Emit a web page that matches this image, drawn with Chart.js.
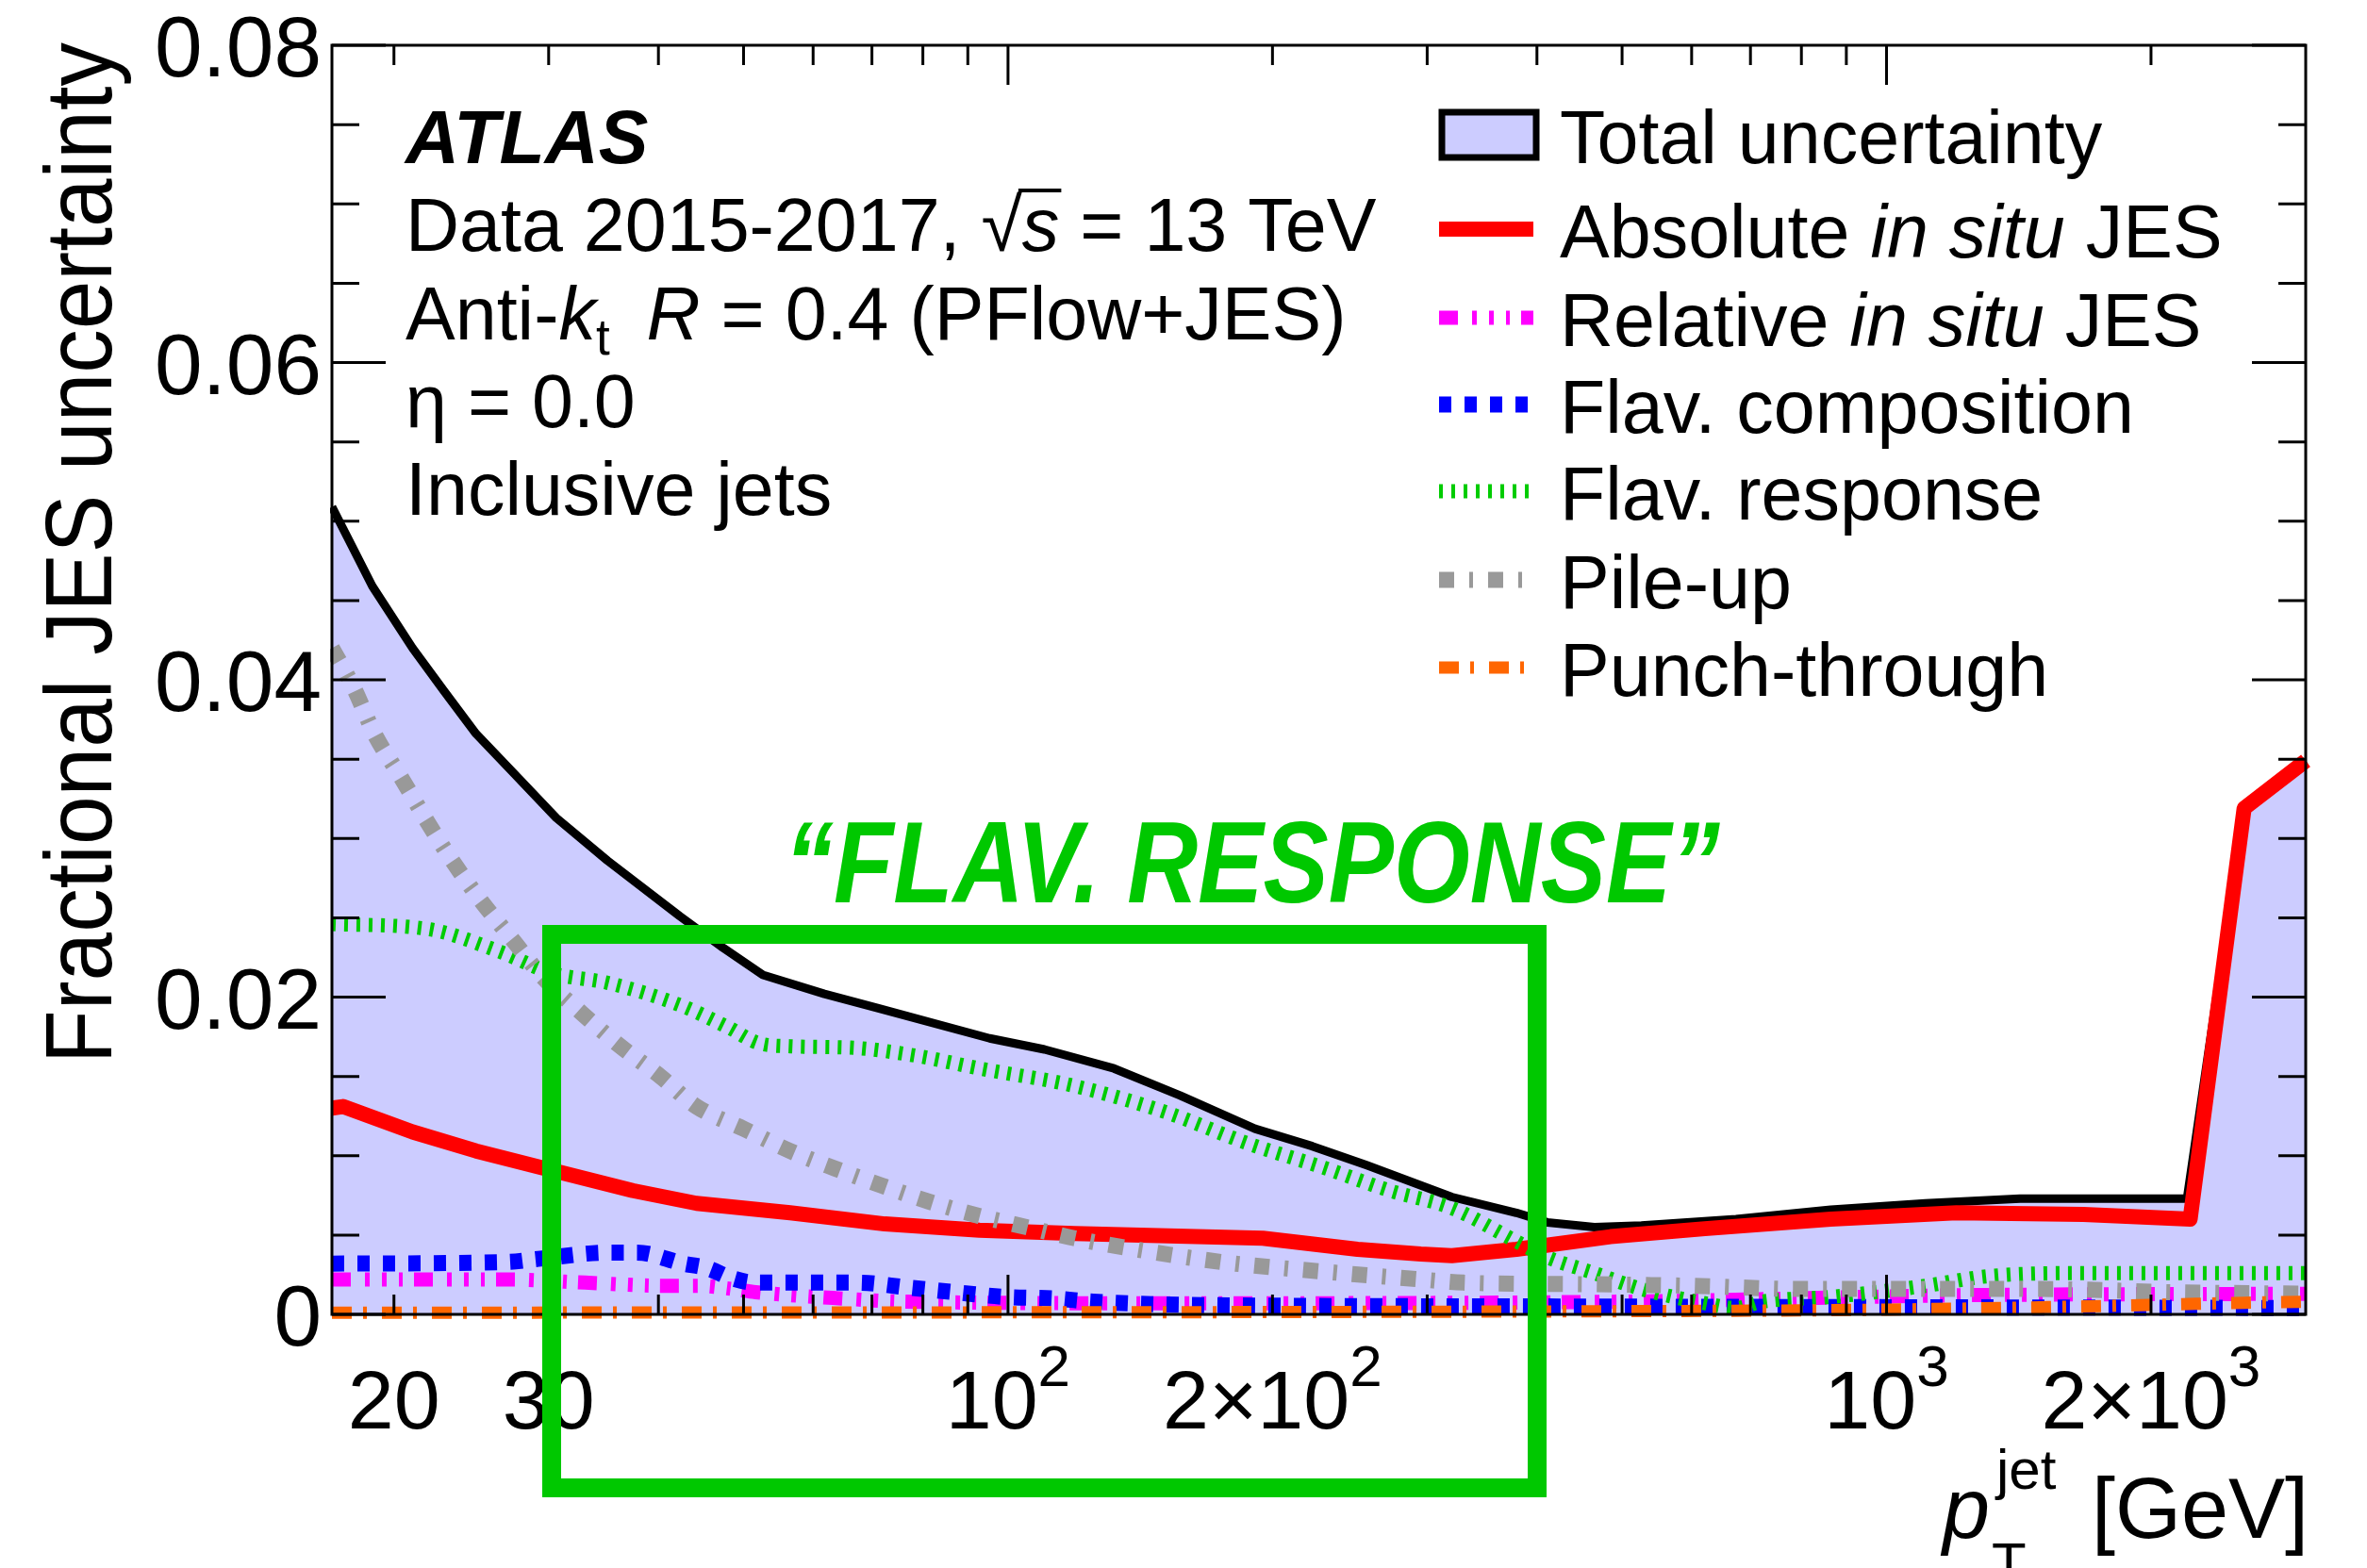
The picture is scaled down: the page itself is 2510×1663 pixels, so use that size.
<!DOCTYPE html>
<html>
<head>
<meta charset="utf-8">
<script src="https://cdn.jsdelivr.net/npm/chart.js@4.4.0/dist/chart.umd.min.js"></script>
<style>
html, body { margin: 0; padding: 0; background: #fff; }
canvas { display: block; }
</style>
</head>
<body>
<canvas id="c" width="2510" height="1663"></canvas>
<script>
// jet pT [GeV] and fractional JES uncertainty
const ptTotal = [17, 18.9, 21, 22.8, 24.8, 27.4, 30.6, 35, 42.3, 47.4, 52.6, 61.8, 71.2, 95.3, 110, 132, 157, 191, 222, 256, 320, 379, 411, 465, 526, 674, 864, 1107, 1419, 1973, 2198, 2553, 3000];
const uncTotal = [0.0509, 0.0459, 0.0420, 0.0393, 0.0366, 0.0341, 0.0313, 0.0286, 0.0251, 0.0231, 0.0214, 0.0202, 0.0193, 0.0174, 0.0167, 0.0155, 0.0138, 0.0117, 0.0106, 0.0094, 0.0074, 0.0064, 0.0058, 0.0055, 0.0056, 0.0060, 0.0066, 0.0070, 0.0073, 0.0073, 0.0073, 0.0319, 0.0349];

const ptAbs = [17, 17.5, 21, 24.8, 29.7, 37.4, 44.2, 56.5, 72.4, 92.8, 119, 195, 250, 295, 320, 379, 485, 621, 864, 1201, 1675, 2216, 2553, 3000];
const uncAbs = [0.0130, 0.0131, 0.0115, 0.0103, 0.0092, 0.0078, 0.0070, 0.0064, 0.0057, 0.0053, 0.0051, 0.0048, 0.0041, 0.0038, 0.0037, 0.0041, 0.0049, 0.0054, 0.0060, 0.0064, 0.0063, 0.0060, 0.0319, 0.0349];

const ptRel = [17, 26.9, 33, 41, 44.5, 48.5, 51.6, 64.7, 76.7, 150, 500, 1200, 3000];
const uncRel = [0.0022, 0.0022, 0.0020, 0.0018, 0.0018, 0.0016, 0.0014, 0.0010, 0.0008, 0.0007, 0.0008, 0.0012, 0.0013];

const ptFlavComp = [17, 26.9, 29.2, 35.3, 37.8, 42.7, 45.5, 48.4, 51.6, 67.3, 76.7, 86.8, 99.3, 113, 125, 160, 400, 3000];
const uncFlavComp = [0.0032, 0.0033, 0.0035, 0.0039, 0.0039, 0.0032, 0.0029, 0.0023, 0.0020, 0.0020, 0.0017, 0.0014, 0.0011, 0.0010, 0.0008, 0.0006, 0.0005, 0.0004];

const ptFlavResp = [17, 21.8, 26.3, 30.3, 35, 42.3, 48, 52, 56.5, 66.8, 78.6, 92.8, 119, 152, 187, 230, 272, 320, 379, 411, 465, 526, 621, 674, 721, 864, 1107, 1302, 1675, 3000];
const uncFlavResp = [0.0246, 0.0243, 0.0229, 0.0215, 0.0209, 0.0195, 0.0181, 0.0171, 0.0169, 0.0168, 0.0163, 0.0155, 0.0144, 0.0127, 0.0108, 0.0092, 0.0078, 0.0067, 0.0046, 0.0036, 0.0026, 0.0016, 0.0007, 0.0004, 0.0008, 0.0011, 0.0018, 0.0024, 0.0026, 0.0026];

const ptPileup = [17, 18, 19, 20.4, 21.8, 23.3, 25.1, 27.4, 29.5, 32.7, 36.2, 40.2, 44.2, 50, 56.5, 63.5, 72, 81.4, 92.8, 105, 119, 133, 175, 228, 295, 330, 460, 600, 800, 1500, 2100, 3000];
const uncPileup = [0.0420, 0.0395, 0.0366, 0.0338, 0.0311, 0.0286, 0.0261, 0.0235, 0.0213, 0.0190, 0.0169, 0.0150, 0.0131, 0.0117, 0.0103, 0.0092, 0.0081, 0.0071, 0.0062, 0.0055, 0.0048, 0.0043, 0.0033, 0.0027, 0.0022, 0.0020, 0.0019, 0.0018, 0.0016, 0.0016, 0.0014, 0.0013];

const ptPunch = [17, 500, 1000, 1675, 2400, 3000];
const uncPunch = [0.0001, 0.0002, 0.0003, 0.0005, 0.0007, 0.0008];

// axis ticks and labels
const xMinorTicks = [20, 30, 40, 50, 60, 70, 80, 90, 200, 300, 400, 500, 600, 700, 800, 900, 2000];
const xMajorTicks = [100, 1000];
const xLabelValues = [20, 30, 100, 200, 1000, 2000];
const xLabelBase = ['20', '30', '10', '2\u00d710', '10', '2\u00d710'];
const xLabelSup = ['', '', '2', '2', '3', '3'];
const yLabelValues = [0, 0.02, 0.04, 0.06, 0.08];
const yLabelText = ['0', '0.02', '0.04', '0.06', '0.08'];

const FONT = '"Liberation Sans", Arial, sans-serif';
const f = (size, style) => (style ? style + ' ' : '') + size + 'px ' + FONT;

const pts = (xs, ys) => xs.map((x, i) => ({ x, y: ys[i] }));
const clipBox = { left: 2, right: 8, top: 0, bottom: 10 };
const straight = { cubicInterpolationMode: 'default', tension: 0 };

const datasets = [
  Object.assign({ label: 'Total uncertainty', data: pts(ptTotal, uncTotal), borderColor: '#000000', borderWidth: 9, borderDash: [], fill: 'origin', backgroundColor: '#ccccff', order: 7 }, straight),
  Object.assign({ label: 'Absolute in situ JES', data: pts(ptAbs, uncAbs), borderColor: '#ff0000', borderWidth: 16, borderDash: [], fill: false, order: 6 }, straight),
  { label: 'Relative in situ JES', data: pts(ptRel, uncRel), borderColor: '#ff00ff', borderWidth: 15, borderDash: [20, 15, 5, 13, 5, 13, 4, 12], fill: false, order: 5 },
  { label: 'Flav. composition', data: pts(ptFlavComp, uncFlavComp), borderColor: '#0000ff', borderWidth: 17, borderDash: [13, 14], fill: false, order: 4 },
  { label: 'Flav. response', data: pts(ptFlavResp, uncFlavResp), borderColor: '#00cc00', borderWidth: 15, borderDash: [4, 9], fill: false, order: 3 },
  { label: 'Pile-up', data: pts(ptPileup, uncPileup), borderColor: '#999999', borderWidth: 17, borderDash: [16, 16, 4, 16], fill: false, order: 2 },
  { label: 'Punch-through', data: pts(ptPunch, uncPunch), borderColor: '#ff6600', borderWidth: 13, borderDash: [21, 12, 4, 16], fill: false, order: 1 }
].map(d => Object.assign(d, { clip: clipBox, pointRadius: 0 }));

function drawRuns(ctx, x, y, parts, align) {
  let w = 0;
  parts.forEach(p => { ctx.font = p[1]; w += ctx.measureText(p[0]).width; });
  let cx = align === 'center' ? x - w / 2 : align === 'right' ? x - w : x;
  const pos = [];
  parts.forEach(p => {
    ctx.font = p[1];
    ctx.fillText(p[0], cx, y + (p[2] || 0));
    const pw = ctx.measureText(p[0]).width;
    pos.push([cx, pw]);
    cx += pw;
  });
  return pos;
}

const atlasDecor = {
  id: 'atlasDecor',
  afterDraw(chart) {
    const ctx = chart.ctx;
    const xs = chart.scales.x, ys = chart.scales.y;
    const a = chart.chartArea;
    ctx.save();
    ctx.fillStyle = '#000';
    ctx.strokeStyle = '#000';
    ctx.textAlign = 'left';
    ctx.textBaseline = 'alphabetic';

    // frame
    ctx.lineWidth = 3;
    ctx.setLineDash([]);
    ctx.strokeRect(a.left, a.top, a.right - a.left, a.bottom - a.top);

    // x ticks (inward, top and bottom)
    const xt = (v, len) => {
      const px = xs.getPixelForValue(v);
      ctx.beginPath();
      ctx.moveTo(px, a.bottom); ctx.lineTo(px, a.bottom - len);
      ctx.moveTo(px, a.top); ctx.lineTo(px, a.top + len);
      ctx.stroke();
    };
    xMinorTicks.forEach(v => xt(v, 21));
    xMajorTicks.forEach(v => xt(v, 42));

    // y ticks every 0.005, major every 0.02
    for (let i = 0; i <= 16; i++) {
      const py = ys.getPixelForValue(i * 0.005);
      const len = i % 4 === 0 ? 57 : 29;
      ctx.beginPath();
      ctx.moveTo(a.left, py); ctx.lineTo(a.left + len, py);
      ctx.moveTo(a.right, py); ctx.lineTo(a.right - len, py);
      ctx.stroke();
    }

    // y tick labels
    ctx.font = f(91);
    ctx.textAlign = 'right';
    yLabelValues.forEach((v, i) => {
      ctx.fillText(yLabelText[i], 341, ys.getPixelForValue(v) + 33);
    });
    ctx.textAlign = 'left';

    // x tick labels
    xLabelValues.forEach((v, i) => {
      const px = xs.getPixelForValue(v);
      const parts = [[xLabelBase[i], f(88)]];
      if (xLabelSup[i]) parts.push([xLabelSup[i], f(62), -45]);
      drawRuns(ctx, px, 1515, parts, 'center');
    });

    // x axis title
    ctx.font = f(90);
    ctx.textAlign = 'right';
    ctx.fillText('[GeV]', 2448, 1631);
    ctx.textAlign = 'left';
    ctx.font = f(90, 'italic');
    ctx.fillText('p', 2060, 1631);
    ctx.font = f(60);
    ctx.fillText('jet', 2117, 1579);
    ctx.fillText('T', 2112, 1678);

    // y axis title, fitted to the axis length
    ctx.save();
    ctx.translate(118, 45);
    ctx.rotate(-Math.PI / 2);
    ctx.font = f(100);
    const yt = 'Fractional JES uncertainty';
    const ytw = ctx.measureText(yt).width;
    ctx.scale(1083 / ytw, 1);
    ctx.textAlign = 'right';
    ctx.fillText(yt, 0, 0);
    ctx.restore();

    // labels top-left
    ctx.font = f(79, 'italic bold');
    ctx.fillText('ATLAS', 430, 173);
    const R = f(79), I = f(79, 'italic');
    const p2 = drawRuns(ctx, 430, 266, [['Data 2015-2017, ', R], ['\u221a', R], ['s', I], [' = 13 TeV', R]]);
    ctx.lineWidth = 4;
    ctx.beginPath();
    ctx.moveTo(p2[1][0] + p2[1][1] - 4, 266 - 64);
    ctx.lineTo(p2[2][0] + p2[2][1] + 2, 266 - 64);
    ctx.stroke();
    drawRuns(ctx, 430, 360, [['Anti-', R], ['k', I], ['t', f(53), 16], ['  ', f(70)], ['R', I], [' = 0.4 (PFlow+JES)', R]]);
    drawRuns(ctx, 430, 453, [['\u03b7 = 0.0', R]]);
    drawRuns(ctx, 430, 546, [['Inclusive jets', R]]);

    // legend
    const rowMid = [143, 243, 337, 429, 521, 615, 708];
    const legendText = [
      [['Total uncertainty', R]],
      [['Absolute ', R], ['in situ', I], [' JES', R]],
      [['Relative ', R], ['in situ', I], [' JES', R]],
      [['Flav. composition', R]],
      [['Flav. response', R]],
      [['Pile-up', R]],
      [['Punch-through', R]]
    ];
    chart.data.datasets.forEach((ds, i) => {
      const cy = rowMid[i];
      if (i === 0) {
        ctx.fillStyle = ds.backgroundColor;
        ctx.fillRect(1529, 119, 100, 48);
        ctx.lineWidth = 7;
        ctx.setLineDash([]);
        ctx.strokeStyle = '#000';
        ctx.strokeRect(1529, 119, 100, 48);
      } else {
        ctx.strokeStyle = ds.borderColor;
        ctx.lineWidth = ds.borderWidth;
        ctx.setLineDash(ds.borderDash);
        ctx.beginPath();
        ctx.moveTo(1526, cy);
        ctx.lineTo(1626, cy);
        ctx.stroke();
      }
      ctx.setLineDash([]);
      ctx.fillStyle = '#000';
      drawRuns(ctx, 1654, cy + 30, legendText[i]);
    });

    // green annotation
    ctx.strokeStyle = '#00c800';
    ctx.fillStyle = '#00c800';
    ctx.lineWidth = 20;
    ctx.setLineDash([]);
    ctx.strokeRect(585, 991, 1045, 587);
    ctx.save();
    ctx.font = f(122, 'italic bold');
    const note = '\u201cFLAV. RESPONSE\u201d';
    const nw = ctx.measureText(note).width;
    ctx.translate(832, 957);
    ctx.scale(992 / nw, 1);
    ctx.fillText(note, 0, 0);
    ctx.restore();

    ctx.restore();
  }
};

new Chart(document.getElementById('c').getContext('2d'), {
  type: 'line',
  data: { datasets },
  options: {
    responsive: false,
    animation: false,
    layout: { padding: { left: 352, right: 65, top: 48, bottom: 269 } },
    scales: {
      x: { type: 'logarithmic', min: 17, max: 3000, display: false },
      y: { type: 'linear', min: 0, max: 0.08, display: false }
    },
    plugins: { legend: { display: false }, tooltip: { enabled: false } },
    elements: {
      point: { radius: 0 },
      line: { cubicInterpolationMode: 'monotone', borderCapStyle: 'butt', borderJoinStyle: 'round' }
    }
  },
  plugins: [atlasDecor]
});
</script>
</body>
</html>
